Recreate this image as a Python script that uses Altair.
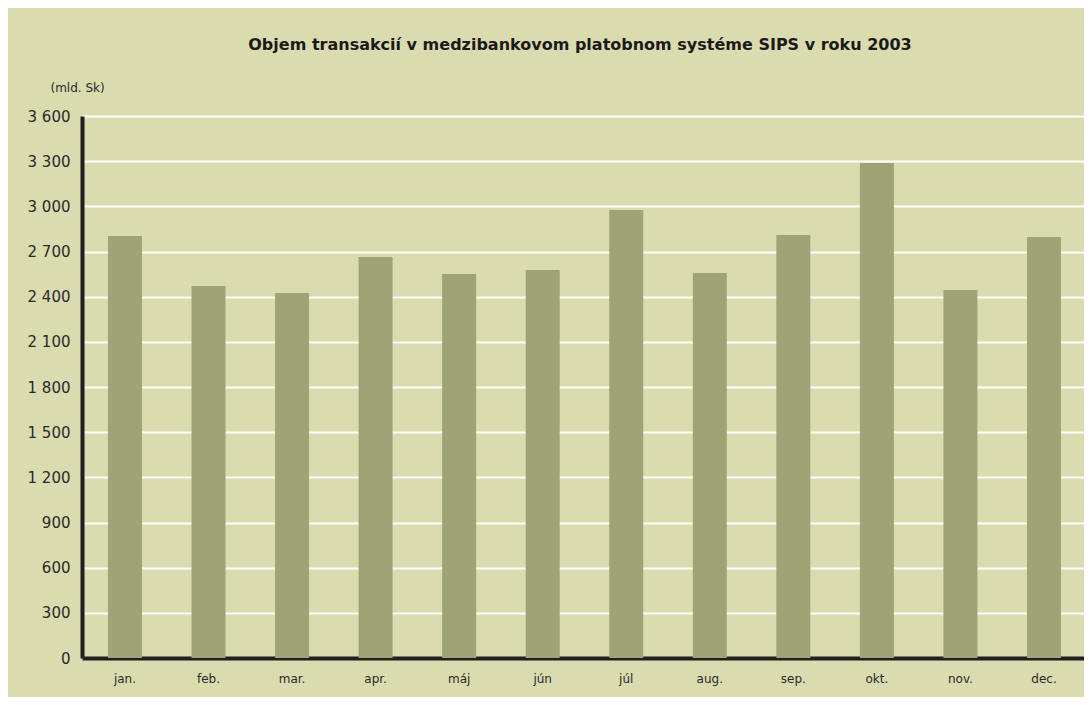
import altair as alt
import pandas as pd

months = ["jan.", "feb.", "mar.", "apr.", "máj", "jún", "júl", "aug.", "sep.", "okt.", "nov.", "dec."]
volumes = [2803, 2471, 2424, 2663, 2551, 2577, 2976, 2557, 2810, 3288, 2444, 2796]
y_ticks = [0, 300, 600, 900, 1200, 1500, 1800, 2100, 2400, 2700, 3000, 3300, 3600]

df = pd.DataFrame({"mesiac": months, "objem": volumes})

BG = "#DADBAF"
BAR = "#9EA474"
DARK = "#231F20"
TXT = "#2a2a2a"

chart = alt.Chart(df).mark_bar(color=BAR).encode(
    x=alt.X("mesiac:N", sort=months,
            scale=alt.Scale(paddingInner=0.593, paddingOuter=0.293, align=0.53),
            axis=alt.Axis(title=None, labelAngle=0, ticks=False, grid=False,
                          domainColor=DARK, domainWidth=4, labelPadding=15,
                          labelFontSize=12, labelColor=TXT,
                          labelFont="DejaVu Sans")),
    y=alt.Y("objem:Q", scale=alt.Scale(domain=[0, 3600], nice=False),
            axis=alt.Axis(values=y_ticks, ticks=False, grid=True, gridColor="white",
                          gridWidth=2, domainColor=DARK, domainWidth=4,
                          labelExpr="replace(format(datum.value, ','), ',', ' ')",
                          labelFontSize=15, labelColor=TXT, labelPadding=12,
                          labelFont="DejaVu Sans",
                          title="(mld. Sk)", titleAngle=0, titleX=-32, titleY=-22,
                          titleAlign="left", titleFontSize=12, titleFontWeight="normal",
                          titleColor=TXT, titleFont="DejaVu Sans")),
).properties(
    width=1002,
    height=542,
    autosize=alt.AutoSizeParams(type="none"),
    padding={"left": 74, "top": 108, "right": 0, "bottom": 39},
    title=alt.TitleParams("Objem transakcií v medzibankovom platobnom systéme SIPS v roku 2003",
                          fontSize=16, fontWeight="bold", font="DejaVu Sans",
                          color="#1a1a1a", anchor="middle", offset=28, dx=-3),
).configure(background=BG).configure_view(stroke=None, fill=BG)

chart.save("out.html", embed_options={"renderer": "svg", "actions": False})
